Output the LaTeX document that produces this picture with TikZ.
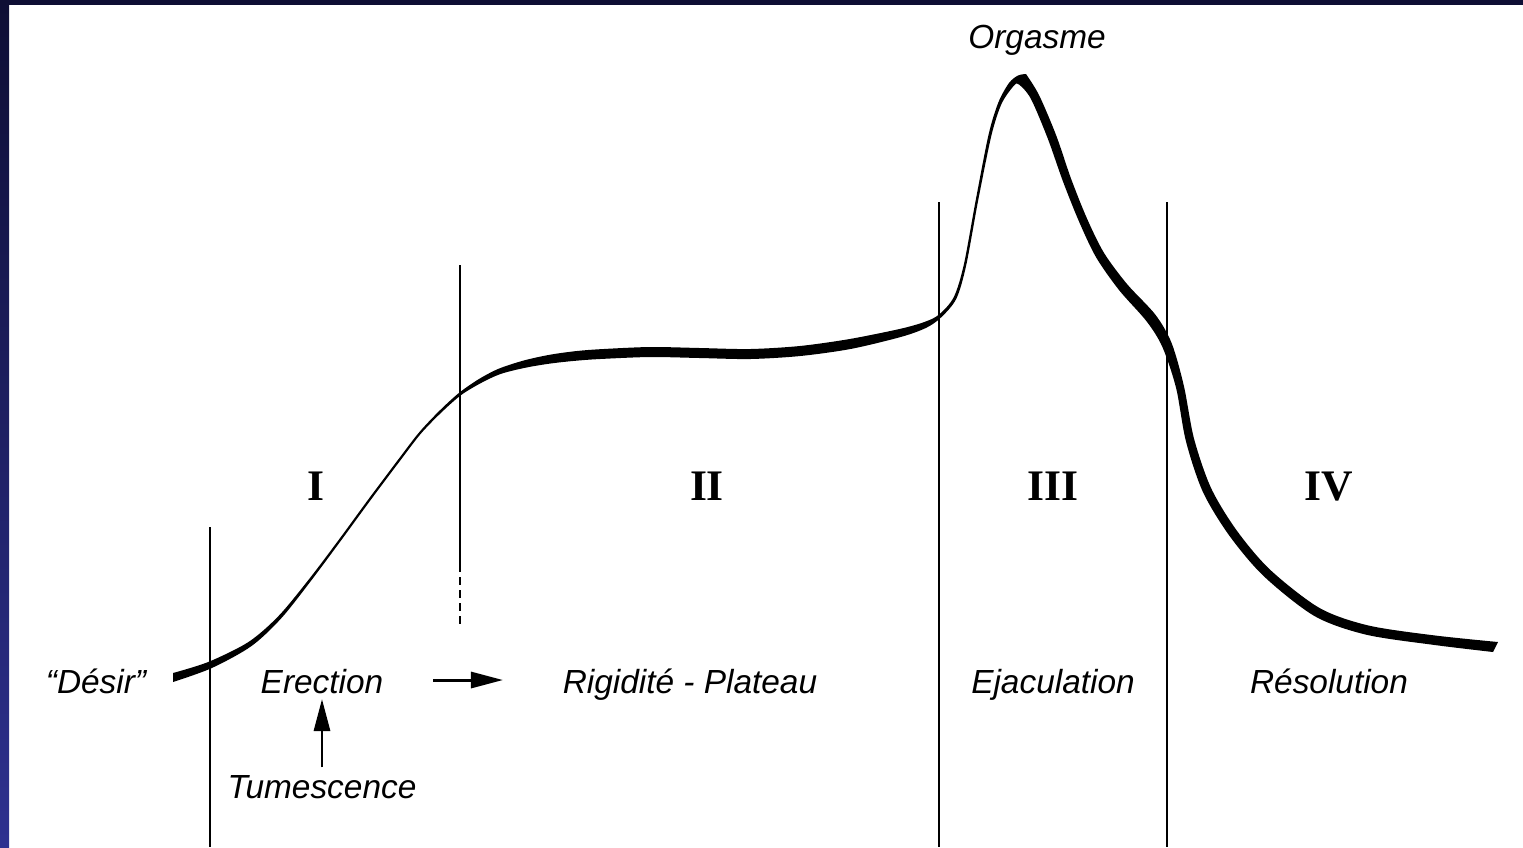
\documentclass[tikz,border=0pt]{standalone}
\usepackage{fontspec}
\setmainfont{Liberation Sans}
\newfontfamily\romfont{Liberation Serif}
\usetikzlibrary{arrows.meta}
\definecolor{navytop}{HTML}{0E0E34}
\definecolor{navybot}{HTML}{2E3190}
\begin{document}
\begin{tikzpicture}[x=0.01cm,y=-0.01cm,
  lbl/.style={font=\fontsize{9.5pt}{11pt}\selectfont\itshape, inner sep=0pt, anchor=base},
  roman/.style={font=\romfont\bfseries\fontsize{12.4pt}{14pt}\selectfont, inner sep=0pt, anchor=base},
  phase/.style={line width=0.5pt},
  arr/.style={line width=0.85pt, -{Triangle[length=3.2mm,width=1.6mm]}}]
\useasboundingbox (0,0) rectangle (1523,847);
% background
\fill[white] (0,0) rectangle (1523,847);
\fill[navytop] (0,0) rectangle (1523,5);
\shade[top color=navytop, bottom color=navybot] (0,0) rectangle (9,847);
% phase separators
\draw[phase] (210,527) -- (210,847);
\draw[phase] (460,265) -- (460,572);
\draw[phase, dash pattern=on 0.75mm off 0.55mm] (460,577) -- (460,625);
\draw[phase] (939,202) -- (939,847);
\draw[phase] (1167,202) -- (1167,847);
% response curve (variable width)
\fill[black] (173,673)
  -- plot[smooth] coordinates {(173,673) (208.4,661.9) (248.6,641.9) (278.7,615.8) (309,579.2) (339.1,539.35) (369.1,498.35) (399.1,458.35) (419.15,432.3) (439.1,411.1) (459.1,392.8) (478.9,379.05) (498.95,368.6) (524.1,360.4) (549.5,354.8) (575,351.2) (600,349.2) (650,347) (700,348) (750,349) (799.7,346) (849.1,339.1) (899,329.1) (923.8,322.2) (938.8,314.7) (953.65,297.35) (963.8,264.7) (975.8,199.75) (988.55,134.65) (998.4,102.3) (1009,83) (1018,75.5) (1026,74)}
  -- plot[smooth] coordinates {(1026,74) (1039.1,95.2) (1056.2,135.4) (1071,178.5) (1086.9,218.3) (1103.9,252.7) (1126.9,283.9) (1155.4,314.7) (1171.6,343) (1183.9,386) (1194.1,438.9) (1211.1,488.1) (1236.6,530.3) (1270.1,569.7) (1319.4,607.9) (1368.1,625.4) (1433.6,635.3) (1498,642)}
  -- (1493,652)
  -- plot[smooth] coordinates {(1493,652) (1432.4,644.7) (1365.9,634.6) (1314.6,616.1) (1263.9,576.3) (1229.4,535.7) (1202.9,491.9) (1185.9,441.1) (1176.1,388) (1162.4,347) (1146.6,321.3) (1119.1,290.1) (1096.1,257.3) (1079.1,221.7) (1063,181.5) (1047.8,138.6) (1030.9,98.8) (1019,84.5) (1013.9,85.65) (1001.6,103.7) (991.45,135.35) (978.2,200.25) (966.2,265.3) (956.35,298.65) (941.2,317.3) (926.2,327.8) (901,336.9) (850.9,348.9) (800.3,356) (750,359) (700,358) (650,357) (600,359) (575,360.8) (550.5,363.5) (525.9,367.6) (501.05,373.8) (481.1,382.95) (460.9,395.2) (440.9,412.9) (420.85,433.7) (400.9,459.65) (370.9,499.65) (340.9,540.65) (311,580.8) (281.3,618.2) (251.4,646.1) (211.6,668.1) (173,682)}
  -- cycle;
% labels
\node[lbl] (des) at (96,693) {“Désir”};
\node[lbl] (ere) at (322,693) {Erection};
\node[lbl] (rig) at (690,693) {Rigidité - Plateau};
\node[lbl] (eja) at (1053,693) {Ejaculation};
\node[lbl] (res) at (1329,693) {Résolution};
\node[lbl] (tum) at (322,798) {Tumescence};
\node[lbl] (org) at (1037,48) {Orgasme};
\node[roman] (p1) at (316,500) {I};
\node[roman] (p2) at (707,500) {II};
\node[roman] (p3) at (1053,500) {III};
\node[roman] (p4) at (1329,500) {IV};
% arrows
\draw[arr, shorten <=0.7mm, shorten >=0.5mm] (tum.north) -- (ere.south);
\coordinate (ra) at (433,680);
\coordinate (rb) at (503,680);
\draw[arr] (ra) -- (rb);
\end{tikzpicture}
\end{document}
